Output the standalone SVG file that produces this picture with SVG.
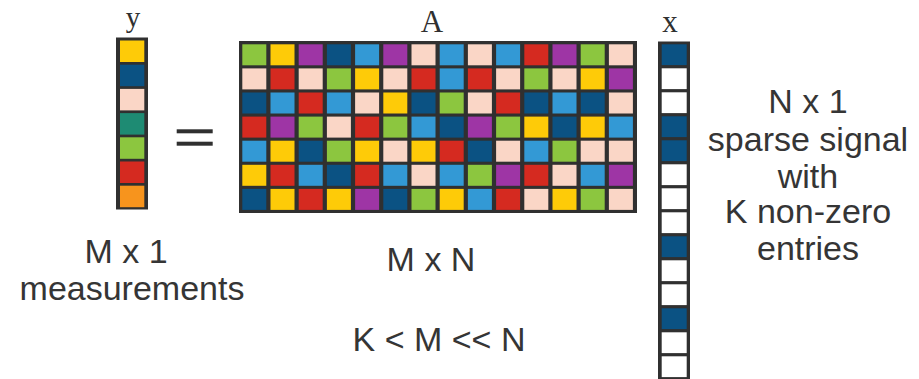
<svg xmlns="http://www.w3.org/2000/svg" width="919" height="379" viewBox="0 0 919 379">
<style>
.G{fill:#8cc63f}.Y{fill:#fecb08}.P{fill:#9e35a5}.N{fill:#0b5283}.B{fill:#3399d5}.K{fill:#fad6c6}.R{fill:#d52a20}.T{fill:#1e8b73}.O{fill:#f7941d}.W{fill:#ffffff}
.frame{fill:#303030}
.lbl{font-family:"Liberation Sans",Arial,sans-serif;font-size:34px;fill:#353535;text-anchor:middle}
.var{font-family:"Liberation Serif","Times New Roman",serif;font-size:31px;fill:#303030;text-anchor:middle}
</style>
<rect width="919" height="379" fill="#ffffff"/>

<g id="label-y"><text class="var" x="133" y="27" style="font-size:29px">y</text></g>
<g id="label-A"><text class="var" x="432" y="32">A</text></g>
<g id="label-x"><text class="var" x="670" y="32">x</text></g>

<g id="vector-y">
<rect class="frame" x="116" y="37.5" width="32" height="172"/>
<rect class="Y" x="120" y="40.5" width="24.3" height="21.5"/>
<rect class="N" x="120" y="64.7" width="24.3" height="21.5"/>
<rect class="K" x="120" y="88.9" width="24.3" height="21.5"/>
<rect class="T" x="120" y="113.1" width="24.3" height="21.5"/>
<rect class="G" x="120" y="137.3" width="24.3" height="21.5"/>
<rect class="R" x="120" y="161.5" width="24.3" height="21.5"/>
<rect class="O" x="120" y="185.7" width="24.3" height="21.5"/>
</g>

<g id="equals">
<rect class="frame" x="176.7" y="129.3" width="36" height="4"/>
<rect class="frame" x="176.7" y="141.7" width="36" height="4"/>
</g>

<g id="matrix-A">
<rect class="frame" x="239" y="41" width="398" height="172"/>
<g transform="translate(0,44.3)">
<rect class="G" x="242.3" width="24" height="21"/><rect class="Y" x="270.5" width="24" height="21"/><rect class="P" x="298.7" width="24" height="21"/><rect class="N" x="326.9" width="24" height="21"/><rect class="B" x="355.1" width="24" height="21"/><rect class="P" x="383.3" width="24" height="21"/><rect class="K" x="411.5" width="24" height="21"/><rect class="B" x="439.7" width="24" height="21"/><rect class="K" x="467.9" width="24" height="21"/><rect class="B" x="496.1" width="24" height="21"/><rect class="R" x="524.3" width="24" height="21"/><rect class="P" x="552.5" width="24" height="21"/><rect class="G" x="580.7" width="24" height="21"/><rect class="K" x="608.9" width="24" height="21"/>
</g>
<g transform="translate(0,68.4)">
<rect class="K" x="242.3" width="24" height="21"/><rect class="R" x="270.5" width="24" height="21"/><rect class="K" x="298.7" width="24" height="21"/><rect class="G" x="326.9" width="24" height="21"/><rect class="Y" x="355.1" width="24" height="21"/><rect class="K" x="383.3" width="24" height="21"/><rect class="R" x="411.5" width="24" height="21"/><rect class="B" x="439.7" width="24" height="21"/><rect class="R" x="467.9" width="24" height="21"/><rect class="K" x="496.1" width="24" height="21"/><rect class="G" x="524.3" width="24" height="21"/><rect class="K" x="552.5" width="24" height="21"/><rect class="Y" x="580.7" width="24" height="21"/><rect class="P" x="608.9" width="24" height="21"/>
</g>
<g transform="translate(0,92.5)">
<rect class="N" x="242.3" width="24" height="21"/><rect class="B" x="270.5" width="24" height="21"/><rect class="R" x="298.7" width="24" height="21"/><rect class="B" x="326.9" width="24" height="21"/><rect class="K" x="355.1" width="24" height="21"/><rect class="Y" x="383.3" width="24" height="21"/><rect class="N" x="411.5" width="24" height="21"/><rect class="G" x="439.7" width="24" height="21"/><rect class="K" x="467.9" width="24" height="21"/><rect class="R" x="496.1" width="24" height="21"/><rect class="N" x="524.3" width="24" height="21"/><rect class="B" x="552.5" width="24" height="21"/><rect class="N" x="580.7" width="24" height="21"/><rect class="K" x="608.9" width="24" height="21"/>
</g>
<g transform="translate(0,116.6)">
<rect class="R" x="242.3" width="24" height="21"/><rect class="P" x="270.5" width="24" height="21"/><rect class="G" x="298.7" width="24" height="21"/><rect class="K" x="326.9" width="24" height="21"/><rect class="R" x="355.1" width="24" height="21"/><rect class="G" x="383.3" width="24" height="21"/><rect class="B" x="411.5" width="24" height="21"/><rect class="N" x="439.7" width="24" height="21"/><rect class="P" x="467.9" width="24" height="21"/><rect class="G" x="496.1" width="24" height="21"/><rect class="Y" x="524.3" width="24" height="21"/><rect class="N" x="552.5" width="24" height="21"/><rect class="Y" x="580.7" width="24" height="21"/><rect class="B" x="608.9" width="24" height="21"/>
</g>
<g transform="translate(0,140.7)">
<rect class="B" x="242.3" width="24" height="21"/><rect class="Y" x="270.5" width="24" height="21"/><rect class="N" x="298.7" width="24" height="21"/><rect class="G" x="326.9" width="24" height="21"/><rect class="Y" x="355.1" width="24" height="21"/><rect class="K" x="383.3" width="24" height="21"/><rect class="Y" x="411.5" width="24" height="21"/><rect class="R" x="439.7" width="24" height="21"/><rect class="N" x="467.9" width="24" height="21"/><rect class="K" x="496.1" width="24" height="21"/><rect class="B" x="524.3" width="24" height="21"/><rect class="G" x="552.5" width="24" height="21"/><rect class="K" x="580.7" width="24" height="21"/><rect class="K" x="608.9" width="24" height="21"/>
</g>
<g transform="translate(0,164.8)">
<rect class="Y" x="242.3" width="24" height="21"/><rect class="R" x="270.5" width="24" height="21"/><rect class="B" x="298.7" width="24" height="21"/><rect class="N" x="326.9" width="24" height="21"/><rect class="R" x="355.1" width="24" height="21"/><rect class="B" x="383.3" width="24" height="21"/><rect class="K" x="411.5" width="24" height="21"/><rect class="B" x="439.7" width="24" height="21"/><rect class="G" x="467.9" width="24" height="21"/><rect class="P" x="496.1" width="24" height="21"/><rect class="R" x="524.3" width="24" height="21"/><rect class="K" x="552.5" width="24" height="21"/><rect class="B" x="580.7" width="24" height="21"/><rect class="P" x="608.9" width="24" height="21"/>
</g>
<g transform="translate(0,188.9)">
<rect class="N" x="242.3" width="24" height="21"/><rect class="Y" x="270.5" width="24" height="21"/><rect class="R" x="298.7" width="24" height="21"/><rect class="Y" x="326.9" width="24" height="21"/><rect class="P" x="355.1" width="24" height="21"/><rect class="N" x="383.3" width="24" height="21"/><rect class="G" x="411.5" width="24" height="21"/><rect class="Y" x="439.7" width="24" height="21"/><rect class="B" x="467.9" width="24" height="21"/><rect class="R" x="496.1" width="24" height="21"/><rect class="K" x="524.3" width="24" height="21"/><rect class="Y" x="552.5" width="24" height="21"/><rect class="G" x="580.7" width="24" height="21"/><rect class="K" x="608.9" width="24" height="21"/>
</g>
</g>

<g id="vector-x">
<rect class="frame" x="658" y="41.5" width="32" height="342"/>
<rect class="N" x="661.7" y="44.3" width="25" height="20.8"/>
<rect class="W" x="661.7" y="68.3" width="25" height="20.8"/>
<rect class="W" x="661.7" y="92.3" width="25" height="20.8"/>
<rect class="N" x="661.7" y="116.3" width="25" height="20.8"/>
<rect class="N" x="661.7" y="140.3" width="25" height="20.8"/>
<rect class="W" x="661.7" y="164.3" width="25" height="20.8"/>
<rect class="W" x="661.7" y="188.3" width="25" height="20.8"/>
<rect class="W" x="661.7" y="212.3" width="25" height="20.8"/>
<rect class="N" x="661.7" y="236.3" width="25" height="20.8"/>
<rect class="W" x="661.7" y="260.3" width="25" height="20.8"/>
<rect class="W" x="661.7" y="284.3" width="25" height="20.8"/>
<rect class="N" x="661.7" y="308.3" width="25" height="20.8"/>
<rect class="W" x="661.7" y="332.3" width="25" height="20.8"/>
<rect class="W" x="661.7" y="356.3" width="25" height="20.8"/>
</g>

<g id="label-y-desc">
<text class="lbl" x="126" y="263">M x 1</text>
<text class="lbl" x="132" y="300">measurements</text>
</g>
<g id="label-A-desc">
<text class="lbl" x="431" y="271">M x N</text>
</g>
<g id="label-constraint">
<text class="lbl" x="439" y="351">K &lt; M &lt;&lt; N</text>
</g>
<g id="label-x-desc">
<text class="lbl" x="808" y="113">N x 1</text>
<text class="lbl" x="808" y="151">sparse signal</text>
<text class="lbl" x="808" y="188">with</text>
<text class="lbl" x="808" y="223">K non-zero</text>
<text class="lbl" x="808" y="260">entries</text>
</g>
<g id="connectors"/>
</svg>
